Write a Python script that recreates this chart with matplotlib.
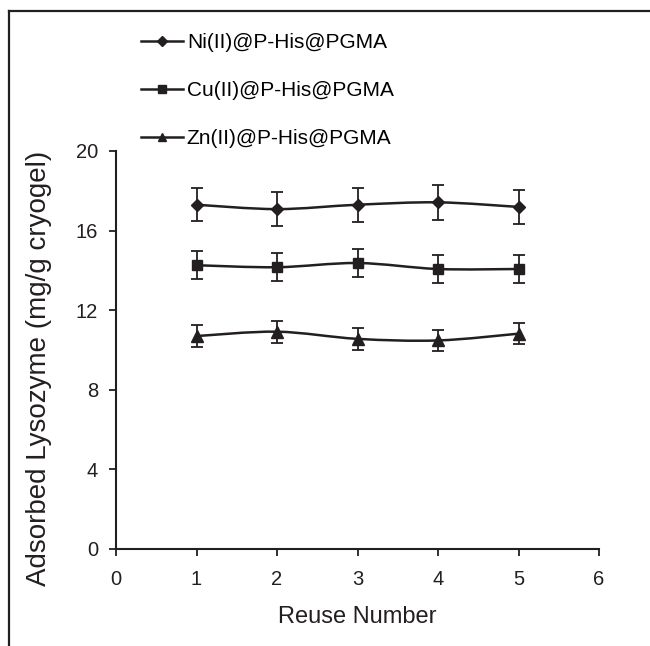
import matplotlib
matplotlib.use("Agg")
import matplotlib.pyplot as plt
from matplotlib.path import Path
from matplotlib.patches import PathPatch
from matplotlib.lines import Line2D
import numpy as np

plt.rcParams['font.family'] = ['Liberation Sans', 'DejaVu Sans']

reuse = [1, 2, 3, 4, 5]
labels = ["Ni(II)@P-His@PGMA", "Cu(II)@P-His@PGMA", "Zn(II)@P-His@PGMA"]
ni = [17.30, 17.08, 17.30, 17.42, 17.19]
ni_err = [0.84, 0.86, 0.85, 0.87, 0.85]
cu = [14.26, 14.16, 14.37, 14.07, 14.07]
cu_err = [0.70, 0.70, 0.70, 0.70, 0.70]
zn = [10.70, 10.92, 10.56, 10.48, 10.82]
zn_err = [0.54, 0.55, 0.55, 0.54, 0.53]
markers = ['D', 's', '^']
msizes = [6.5, 7.5, 8]

xticks = [0, 1, 2, 3, 4, 5, 6]
yticks = [0, 4, 8, 12, 16, 20]

C = '#231f20'

fig = plt.figure(figsize=(6.5, 6.46), dpi=100)
ax = fig.add_axes([116/650, 1-549/646, (599-116)/650, (549-151)/646])


def smooth_path(x, y):
    x = np.asarray(x, float); y = np.asarray(y, float)
    n = len(x)
    verts = [(x[0], y[0])]
    codes = [Path.MOVETO]
    for i in range(n - 1):
        p0 = (x[max(i-1, 0)], y[max(i-1, 0)])
        p1 = (x[i], y[i])
        p2 = (x[i+1], y[i+1])
        p3 = (x[min(i+2, n-1)], y[min(i+2, n-1)])
        c1 = (p1[0] + (p2[0]-p0[0])/6, p1[1] + (p2[1]-p0[1])/6)
        c2 = (p2[0] - (p3[0]-p1[0])/6, p2[1] - (p3[1]-p1[1])/6)
        verts += [c1, c2, p2]
        codes += [Path.CURVE4]*3
    return Path(verts, codes)


series = [(ni, ni_err), (cu, cu_err), (zn, zn_err)]
handles = []
for (vals, errs), m, ms, lab in zip(series, markers, msizes, labels):
    ax.add_patch(PathPatch(smooth_path(reuse, vals), fill=False, edgecolor=C, lw=1.8, zorder=2))
    ax.errorbar(reuse, vals, yerr=errs, fmt='none', ecolor=C, elinewidth=1.3,
                capsize=4, capthick=1.3, zorder=3)
    ax.plot(reuse, vals, linestyle='none', marker=m, ms=ms, color=C, zorder=4)
    handles.append(Line2D([], [], color=C, lw=1.8, marker=m, ms=ms*0.75))

ax.set_xlim(0, 6)
ax.set_ylim(0, 20)
ax.set_xticks(xticks)
ax.set_yticks(yticks)
ax.spines['top'].set_visible(False)
ax.spines['right'].set_visible(False)
for s in ['left', 'bottom']:
    ax.spines[s].set_linewidth(1.5)
    ax.spines[s].set_color(C)
ax.tick_params(axis='both', direction='out', length=5, width=1.3, colors=C,
               labelsize=14.5, labelcolor=C)
ax.tick_params(axis='x', pad=10)
ax.tick_params(axis='y', pad=8)

fig.text(357/650, 1-617/646, "Reuse Number", ha='center', va='center', fontsize=17, color=C)
fig.text(39/650, 1-368/646, "Adsorbed Lysozyme (mg/g cryogel)", ha='center', va='center',
         rotation=90, fontsize=20, color=C)

fig.legend(handles, labels, loc='upper left', bbox_to_anchor=(141/650, 1-33/646),
           frameon=False, fontsize=15, handlelength=2.0, handletextpad=0.2,
           labelspacing=1.4, borderaxespad=0, borderpad=0)

fig.add_artist(Line2D([9/650, 9/650], [0, 1-11/646], transform=fig.transFigure, color=C, lw=1.6))
fig.add_artist(Line2D([9/650, 1], [1-11/646, 1-11/646], transform=fig.transFigure, color=C, lw=1.6))

fig.savefig("out.png", dpi=100)
